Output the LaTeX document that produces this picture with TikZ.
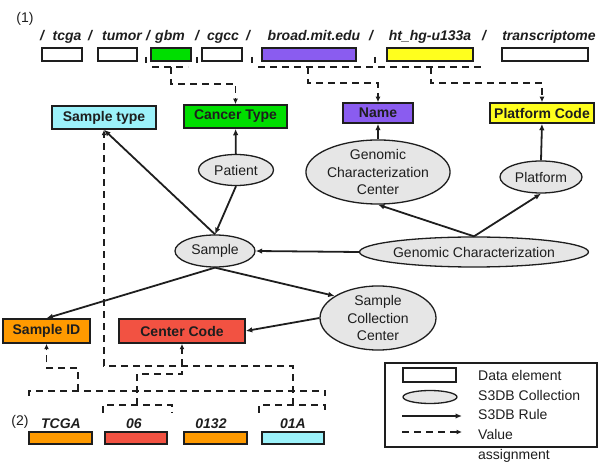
\documentclass[tikz,border=0pt]{standalone}
\usepackage{fontspec}
\setmainfont{Liberation Sans}
\usetikzlibrary{shapes.geometric,arrows.meta}

\definecolor{ink}{HTML}{1E1E1E}
\definecolor{cyanfill}{HTML}{9CF2FA}
\definecolor{greenfill}{HTML}{00DE00}
\definecolor{purplefill}{HTML}{8A5CF0}
\definecolor{yellowfill}{HTML}{FFFF1E}
\definecolor{orangefill}{HTML}{FF9A00}
\definecolor{redfill}{HTML}{F25242}
\definecolor{collfill}{HTML}{E6E6E6}

\tikzset{
  txt/.style={font=\fontsize{14}{17.5}\selectfont, text=ink},
  dbox/.style={draw=ink, line width=1.5pt, inner sep=0pt, txt,
    font=\fontsize{14}{17.5}\selectfont\bfseries},
  sbox/.style={draw=ink, line width=1.4pt, inner sep=0pt, minimum height=13pt},
  bbox/.style={draw=ink, line width=1.4pt, inner sep=0pt, minimum height=12pt},
  coll/.style={ellipse, draw=ink, line width=1.3pt, fill=collfill, inner sep=0pt,
    txt, align=center},
  lbl/.style={font=\fontsize{14}{17.5}\selectfont\bfseries\itshape, text=ink,
    anchor=base, inner sep=0pt},
  rule/.style={draw=ink, line width=1.8pt, -{Latex[length=6.5pt,width=5.5pt]}},
  valline/.style={draw=ink, line width=1.8pt, dash pattern=on 7pt off 5pt},
  valarrow/.style={valline, -{Latex[length=5.5pt,width=5pt]}},
  tickmark/.style={draw=ink, line width=1.4pt},
}

\begin{document}
\begin{tikzpicture}[x=1pt,y=-1pt]
\useasboundingbox (0,0) rectangle (598,462);

% ---------- (1) path of the data file ----------
\node[txt, inner sep=0pt] (one) at (25,19) {(1)};

\node[lbl] (sl1) at (42,41) {/};
\node[lbl] (wtcga) at (67,41) {tcga};
\node[lbl] (sl2) at (90,41) {/};
\node[lbl] (wtumor) at (122,41) {tumor};
\node[lbl] (sl3) at (148,41) {/};
\node[lbl] (wgbm) at (170,41) {gbm};
\node[lbl] (sl4) at (197,41) {/};
\node[lbl] (wcgcc) at (223,41) {cgcc};
\node[lbl] (sl5) at (248,41) {/};
\node[lbl] (wbroad) at (314,41) {broad.mit.edu};
\node[lbl] (sl6) at (371,41) {/};
\node[lbl] (wht) at (430,41) {ht\_hg-u133a};
\node[lbl] (sl7) at (484,41) {/};
\node[lbl] (wtrans) at (549,41) {transcriptome};

\node[sbox, minimum width=40pt] (ptcga) at (62,54.5) {};
\node[sbox, minimum width=39pt] (ptumor) at (117.5,54.5) {};
\node[sbox, minimum width=40pt, fill=greenfill] (pgbm) at (171,54.5) {};
\node[sbox, minimum width=40pt] (pcgcc) at (222,54.5) {};
\node[sbox, minimum width=94pt, fill=purplefill] (pbroad) at (309,54.5) {};
\node[sbox, minimum width=86pt, fill=yellowfill] (pht) at (430,54.5) {};
\node[sbox, minimum width=86pt] (ptrans) at (545,54.5) {};

\draw[tickmark] (146,57) -- (146,63);
\draw[tickmark] (197,57) -- (197,63);
\draw[tickmark] (252,57) -- (252,63);
\draw[tickmark] (375,57) -- (375,63);

% ---------- data elements ----------
\node[dbox, fill=cyanfill, minimum width=104pt, minimum height=23pt] (stype) at (104,117.5) {Sample type};
\node[dbox, fill=greenfill, minimum width=103pt, minimum height=23pt] (ctype) at (235.5,116.5) {Cancer Type};
\node[dbox, fill=purplefill, minimum width=70pt, minimum height=20pt] (name) at (378,113) {Name};
\node[dbox, fill=yellowfill, minimum width=104pt, minimum height=20pt] (pcode) at (542,113) {Platform Code};
\node[dbox, fill=orangefill, minimum width=87pt, minimum height=24pt] (sid) at (46.5,331) {Sample ID};
\node[dbox, fill=redfill, minimum width=126pt, minimum height=24pt] (ccode) at (182,331) {Center Code};

% ---------- collections ----------
\node[coll, minimum width=75pt, minimum height=31pt] (patient) at (236,170) {Patient};
\node[coll, minimum width=80pt, minimum height=32pt] (sample) at (215,251) {Sample};
\node[coll, minimum width=120pt, minimum height=60pt] (gcc) at (378,172) {Genomic\\Characterization\\Center};
\node[coll, minimum width=82pt, minimum height=32pt] (platform) at (541,177) {Platform};
\node[coll, minimum width=204pt, minimum height=30pt] (gc) at (474,252) {Genomic Characterization};
\node[coll, minimum width=116pt, minimum height=60pt] (scc) at (378,318) {Sample\\Collection\\Center};

% ---------- rules ----------
\draw[rule] (patient) -- (ctype);
\draw[rule] (patient.south) -- (sample.north);
\draw[rule] (sample.north) -- (stype.south);
\draw[rule] (gc.west) -- (sample.east);
\draw[rule] (gc.north) -- (gcc.south);
\draw[rule] (gc.north) -- (platform.south);
\draw[rule] (gcc.north) -- (name.south);
\draw[rule] (platform.north) -- (pcode.south);
\draw[rule] (sample.south) -- (sid.north);
\draw[rule] (sample.south) -- (scc.153);
\draw[rule] (scc.west) -- (ccode.east);

% ---------- value assignments from the file path ----------
\coordinate (gbmtap) at (171,67);
\coordinate (broadtap) at (308,67);
\coordinate (httap) at (431,67);
\draw[valline] (152,67) -- (188,67);
\draw[valline] (258,67) -- (485,67);
\draw[valarrow] (gbmtap) -- ++(0,17) -| (ctype.north);
\draw[valarrow] (broadtap) -- ++(0,16) -| (name.north);
\draw[valarrow] (httap) -- ++(0,16) -| (pcode.north);

% ---------- (2) sample barcode ----------
\node[txt, inner sep=0pt] (two) at (20,422) {(2)};
\node[lbl] (wTCGA) at (61,429) {TCGA};
\node[lbl] (w06) at (134,429) {06};
\node[lbl] (w0132) at (211,429) {0132};
\node[lbl] (w01A) at (293,429) {01A};

\node[bbox, minimum width=63pt, fill=orangefill] (bTCGA) at (60.5,438) {};
\node[bbox, minimum width=62pt, fill=redfill] (b06) at (136,438) {};
\node[bbox, minimum width=63pt, fill=orangefill] (b0132) at (215.5,438) {};
\node[bbox, minimum width=62pt, fill=cyanfill] (b01A) at (293,438) {};

% brackets over the barcode
\draw[valline] (29,396) -- (29,391) -- (325,391) -- (325,396);
\draw[valline] (103,413) -- (103,405) -- (172,405) -- (172,413);
\draw[valline] (259,413) -- (259,405) -- (325,405) -- (325,413);

\coordinate (alltap) at (78,391);
\coordinate (tap06) at (137,405);
\coordinate (tap01A) at (293,405);
\draw[valarrow] (alltap) -- ++(0,-23) -| (sid.south);
\draw[valarrow] (tap06) -- ++(0,-31) -| (ccode.south);
\draw[valarrow] (tap01A) -- ++(0,-39) -| (stype.south);

% ---------- legend ----------
\draw[draw=ink, line width=1.2pt] (385,363) rectangle (597,447);
\node[sbox, minimum width=53pt, minimum height=14pt] (legbox) at (429.5,375) {};
\node[coll, minimum width=54pt, minimum height=13pt] (legcoll) at (430,397) {};
\coordinate (legra) at (402,416);
\coordinate (legrb) at (462,416);
\coordinate (legva) at (402,432);
\coordinate (legvb) at (462,432);
\draw[rule] (legra) -- (legrb);
\draw[valarrow] (legva) -- (legvb);
\node[txt, anchor=west, inner sep=0pt] (tdata) at (478,375) {Data element};
\node[txt, anchor=west, inner sep=0pt] (tcoll) at (478,395) {S3DB Collection};
\node[txt, anchor=west, inner sep=0pt] (trule) at (478,414) {S3DB Rule};
\node[txt, anchor=west, inner sep=0pt] (tvalue) at (478,434) {Value};
\node[txt, anchor=west, inner sep=0pt] (tassign) at (478,456) {assignment};
\end{tikzpicture}
\end{document}
